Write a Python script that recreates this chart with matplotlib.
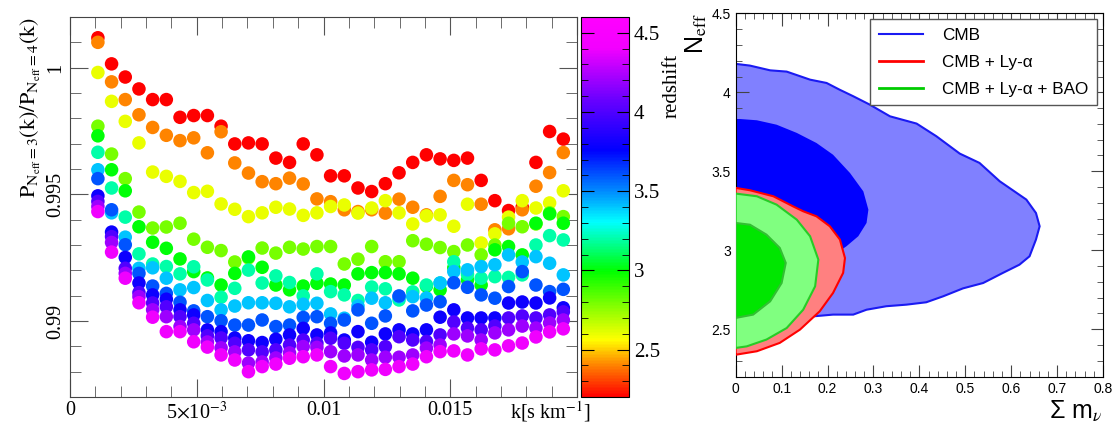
import numpy as np
import matplotlib
matplotlib.use("Agg")
import matplotlib.pyplot as plt
from matplotlib.colors import LinearSegmentedColormap, Normalize
from matplotlib.ticker import MultipleLocator
import matplotlib.cm as cm

plt.rcParams['font.family'] = ['Liberation Serif', 'DejaVu Serif']
plt.rcParams['mathtext.fontset'] = 'stix'

# ---- left panel: P1D ratio vs k, one series per redshift bin ----
k = [0.00110, 0.00164, 0.00218, 0.00272, 0.00326, 0.00380, 0.00434, 0.00488, 0.00542,
     0.00596, 0.00650, 0.00704, 0.00758, 0.00812, 0.00866, 0.00920, 0.00974, 0.01028,
     0.01082, 0.01136, 0.01190, 0.01244, 0.01298, 0.01352, 0.01406, 0.01460, 0.01514,
     0.01568, 0.01622, 0.01676, 0.01730, 0.01784, 0.01838, 0.01892, 0.01946]

redshifts = [2.2, 2.4, 2.6, 2.8, 3.0, 3.2, 3.4, 3.6, 3.8, 4.0, 4.2, 4.4]

r_z22 = [1.00118, 1.00015, 0.99963, 0.99916, 0.99874, 0.99874, 0.99804, 0.99811, 0.99811,
         0.99769, 0.99699, 0.99703, 0.99699, 0.99643, 0.99626, 0.99699, 0.99656, 0.99573,
         0.99573, 0.99525, 0.99511, 0.99542, 0.99585, 0.99626, 0.99656, 0.99640, 0.99634,
         0.99643, 0.99555, 0.99475, 0.99436, 0.99450, 0.99626, 0.99748, 0.99718]
r_z24 = [1.00100, 0.99944, 0.99874, 0.99814, 0.99764, 0.99733, 0.99712, 0.99723, 0.99664,
         0.99747, 0.99624, 0.99584, 0.99550, 0.99542, 0.99564, 0.99541, 0.99482, 0.99471,
         0.99439, 0.99432, 0.99439, 0.99426, 0.99481, 0.99449, 0.99419, 0.99492, 0.99555,
         0.99538, 0.99461, 0.99360, 0.99364, 0.99439, 0.99532, 0.99586, 0.99665]
r_z26 = [0.99981, 0.99867, 0.99788, 0.99703, 0.99588, 0.99571, 0.99551, 0.99507, 0.99512,
         0.99462, 0.99441, 0.99412, 0.99427, 0.99449, 0.99442, 0.99417, 0.99427, 0.99452,
         0.99458, 0.99426, 0.99446, 0.99475, 0.99427, 0.99383, 0.99415, 0.99419, 0.99374,
         0.99461, 0.99308, 0.99344, 0.99410, 0.99475, 0.99446, 0.99466, 0.99514]
r_z28 = [0.99769, 0.99659, 0.99562, 0.99430, 0.99367, 0.99371, 0.99386, 0.99323, 0.99291,
         0.99278, 0.99233, 0.99249, 0.99288, 0.99268, 0.99291, 0.99284, 0.99294, 0.99294,
         0.99225, 0.99244, 0.99294, 0.99234, 0.99234, 0.99317, 0.99303, 0.99290, 0.99274,
         0.99300, 0.99261, 0.99300, 0.99386, 0.99372, 0.99383, 0.99427, 0.99412]
r_z30 = [0.99731, 0.99597, 0.99514, 0.99372, 0.99311, 0.99287, 0.99245, 0.99195, 0.99170,
         0.99142, 0.99188, 0.99253, 0.99212, 0.99142, 0.99123, 0.99138, 0.99149, 0.99146,
         0.99142, 0.99186, 0.99191, 0.99191, 0.99186, 0.99169, 0.99138, 0.99123, 0.99210,
         0.99162, 0.99142, 0.99281, 0.99294, 0.99261, 0.99386, 0.99423, 0.99386]
r_z32 = [0.99666, 0.99525, 0.99410, 0.99265, 0.99225, 0.99215, 0.99186, 0.99214, 0.99162,
         0.99094, 0.99129, 0.99201, 0.99150, 0.99178, 0.99152, 0.99099, 0.99186, 0.99116,
         0.99103, 0.99081, 0.99134, 0.99127, 0.99083, 0.99115, 0.99142, 0.99150, 0.99234,
         0.99184, 0.99169, 0.99175, 0.99172, 0.99182, 0.99300, 0.99337, 0.99320]
r_z34 = [0.99597, 0.99427, 0.99331, 0.99208, 0.99210, 0.99169, 0.99123, 0.99132, 0.99081,
         0.99044, 0.99059, 0.99072, 0.99072, 0.99070, 0.99056, 0.99066, 0.99070, 0.99028,
         0.99011, 0.99059, 0.99090, 0.99072, 0.99095, 0.99096, 0.99091, 0.99150, 0.99195,
         0.99202, 0.99215, 0.99222, 0.99261, 0.99233, 0.99254, 0.99228, 0.99182]
r_z36 = [0.99562, 0.99439, 0.99301, 0.99188, 0.99138, 0.99109, 0.99074, 0.99040, 0.99017,
         0.99001, 0.98984, 0.98984, 0.99004, 0.98978, 0.98984, 0.99014, 0.99017, 0.98991,
         0.99004, 0.99044, 0.98991, 0.99020, 0.99099, 0.99040, 0.99063, 0.99076, 0.99151,
         0.99133, 0.99103, 0.99090, 0.99136, 0.99195, 0.99142, 0.99116, 0.99125]
r_z38 = [0.99494, 0.99351, 0.99251, 0.99150, 0.99103, 0.99086, 0.99044, 0.99024, 0.98965,
         0.98958, 0.98933, 0.98922, 0.98915, 0.98928, 0.98945, 0.98971, 0.98945, 0.98953,
         0.98925, 0.98958, 0.98916, 0.98949, 0.98965, 0.98949, 0.98965, 0.99015, 0.99044,
         0.99012, 0.99012, 0.99012, 0.99071, 0.99075, 0.99071, 0.99091, 0.99052]
r_z40 = [0.99472, 0.99333, 0.99208, 0.99112, 0.99071, 0.99056, 0.99017, 0.98991, 0.98941,
         0.98933, 0.98912, 0.98886, 0.98878, 0.98886, 0.98905, 0.98925, 0.98912, 0.98932,
         0.98912, 0.98896, 0.98886, 0.98899, 0.98938, 0.98925, 0.98919, 0.98945, 0.98996,
         0.98972, 0.98965, 0.98980, 0.99012, 0.99020, 0.99012, 0.99024, 0.99036]
r_z42 = [0.99452, 0.99310, 0.99188, 0.99096, 0.99044, 0.99017, 0.98978, 0.98965, 0.98917,
         0.98894, 0.98878, 0.98834, 0.98838, 0.98854, 0.98874, 0.98899, 0.98896, 0.98879,
         0.98862, 0.98866, 0.98846, 0.98857, 0.98857, 0.98866, 0.98893, 0.98905, 0.98949,
         0.98941, 0.98925, 0.98953, 0.98965, 0.98980, 0.98972, 0.98992, 0.99004]
r_z44 = [0.99432, 0.99272, 0.99169, 0.99072, 0.99015, 0.98958, 0.98958, 0.98918, 0.98897,
         0.98866, 0.98846, 0.98800, 0.98820, 0.98830, 0.98853, 0.98859, 0.98866, 0.98820,
         0.98793, 0.98800, 0.98807, 0.98809, 0.98820, 0.98830, 0.98859, 0.98879, 0.98882,
         0.98866, 0.98890, 0.98886, 0.98902, 0.98913, 0.98937, 0.98957, 0.98969]

ratios = [r_z22, r_z24, r_z26, r_z28, r_z30, r_z32, r_z34, r_z36, r_z38, r_z40, r_z42, r_z44]

# ---- right panel: Neff vs sum m_nu contours ----
cmb95_m = [0.0, 0.031, 0.075, 0.111, 0.162, 0.198, 0.226, 0.256, 0.292, 0.336, 0.394, 0.437,
           0.488, 0.531, 0.575, 0.607, 0.633, 0.654, 0.662, 0.654, 0.640, 0.618, 0.582, 0.539,
           0.495, 0.452, 0.415, 0.372, 0.328, 0.285, 0.256, 0.212, 0.169, 0.140, 0.082, 0.0]
cmb95_n = [4.18, 4.169, 4.139, 4.131, 4.08, 4.059, 4.017, 3.975, 3.922, 3.848, 3.802, 3.722,
           3.612, 3.553, 3.437, 3.373, 3.321, 3.236, 3.152, 3.068, 2.962, 2.909, 2.857, 2.793,
           2.759, 2.709, 2.671, 2.656, 2.646, 2.624, 2.593, 2.593, 2.582, 2.572, 2.561, 2.55]
cmb68_m = [0.0, 0.009, 0.046, 0.089, 0.133, 0.176, 0.212, 0.249, 0.278, 0.289, 0.285, 0.267,
           0.241, 0.220, 0.118, 0.0]
cmb68_n = [3.831, 3.831, 3.823, 3.795, 3.743, 3.679, 3.605, 3.489, 3.373, 3.257, 3.173, 3.089,
           3.025, 2.983, 2.899, 2.857]
lya95_m = [0.0, 0.031, 0.082, 0.125, 0.147, 0.176, 0.205, 0.227, 0.238, 0.234, 0.212, 0.183,
           0.140, 0.096, 0.046, 0.002, 0.0]
lya95_n = [3.395, 3.38, 3.342, 3.278, 3.247, 3.215, 3.152, 3.068, 2.951, 2.857, 2.73, 2.614,
           2.498, 2.414, 2.361, 2.34, 2.34]
bao95_m = [0.0, 0.046, 0.089, 0.133, 0.162, 0.180, 0.173, 0.147, 0.111, 0.067, 0.024, 0.0]
bao95_n = [3.359, 3.342, 3.289, 3.194, 3.089, 2.941, 2.772, 2.624, 2.508, 2.435, 2.392, 2.382]
bao68_m = [0.0, 0.031, 0.067, 0.096, 0.109, 0.100, 0.075, 0.038, 0.0]
bao68_n = [3.173, 3.162, 3.099, 3.015, 2.92, 2.793, 2.677, 2.593, 2.572]

cmap = LinearSegmentedColormap.from_list('zmap', [
    (0.00, (1, 0, 0)), (0.08, (1, 0.5, 0)), (0.15, (1, 1, 0)), (0.25, (0.45, 1, 0)),
    (0.33, (0, 1, 0)), (0.46, (0, 1, 1)), (0.55, (0, 0.5, 1)), (0.65, (0, 0, 1)),
    (0.78, (0.4, 0, 1)), (0.92, (0.95, 0, 1)), (1.00, (1, 0, 1))])
norm = Normalize(2.2, 4.6)

sans = ['Liberation Sans', 'DejaVu Sans']

W, H = 1112, 423
fig = plt.figure(figsize=(W / 100, H / 100), dpi=100)

ax = fig.add_axes([70 / W, 1 - 397 / H, 507 / W, 380 / H])
for z, r in zip(redshifts, ratios):
    ax.scatter(k, r, c=[z] * len(k), cmap=cmap, norm=norm, s=95, linewidths=0, zorder=3)

ax.set_xlim(0, 0.02)
ax.set_ylim(0.987, 1.002)
ax.set_xticks([0, 0.005, 0.01, 0.015, 0.02])
ax.set_xticklabels(['0', r'5$\times$10$^{-3}$', '0.01', '0.015', ''])
ax.set_yticks([0.99, 0.995, 1.0])
ax.set_yticklabels(['0.99', '0.995', '1'], rotation=90, va='center')
ax.xaxis.set_minor_locator(MultipleLocator(0.001))
ax.yaxis.set_minor_locator(MultipleLocator(0.001))
ax.tick_params(which='both', direction='in', top=True, right=True, labelsize=14.5, color='#555555')
ax.tick_params(which='major', length=13)
ax.tick_params(which='minor', length=8)
ax.tick_params(axis='x', pad=3)
for sp in ax.spines.values():
    sp.set_color('#444444')
ax.set_ylabel(r'$\mathrm{P_{N_{eff}=3}(k)/P_{N_{eff}=4}(k)}$', fontsize=16, loc='top', labelpad=2)
ax.text(1.026, -0.038, r'k[s km$^{-1}$]', transform=ax.transAxes, ha='right', va='center', fontsize=14.5)

cax = fig.add_axes([581 / W, 1 - 397 / H, 48 / W, 380 / H])
sm = cm.ScalarMappable(norm=norm, cmap=cmap)
cb = fig.colorbar(sm, cax=cax, ticks=[2.5, 3, 3.5, 4, 4.5])
cb.ax.set_yticklabels(['2.5', '3', '3.5', '4', '4.5'])
cb.outline.set_linewidth(0.8)
cax.yaxis.set_minor_locator(MultipleLocator(0.1))
cax.tick_params(which='both', direction='in', left=True, right=True, labelsize=15)
cax.tick_params(which='major', length=9)
cax.tick_params(which='minor', length=5)
fig.text(672 / W, 1 - 86 / H, 'redshift', rotation=90, ha='center', va='center', fontsize=15)

# right panel
ax2 = fig.add_axes([735.7 / W, 1 - 376.7 / H, 367.3 / W, 363.4 / H])
ax2.fill(cmb95_m, cmb95_n, facecolor=(0.5, 0.5, 1), edgecolor=(0.1, 0.1, 0.95), lw=1.5, zorder=1)
ax2.fill(cmb68_m, cmb68_n, facecolor=(0, 0, 1), edgecolor='none', zorder=2)
ax2.fill(lya95_m, lya95_n, facecolor=(1, 0.5, 0.5), edgecolor=(1, 0, 0), lw=1.5, zorder=3)
ax2.fill(bao95_m, bao95_n, facecolor=(0.5, 1, 0.5), edgecolor=(0.15, 0.8, 0.15), lw=1.5, zorder=4)
ax2.fill(bao68_m, bao68_n, facecolor=(0, 0.9, 0), edgecolor=(0.2, 0.75, 0.2), lw=1.5, zorder=5)
ax2.plot([], [], color=(0.1, 0.1, 0.95), lw=1.5, label='CMB')
ax2.plot([], [], color=(1, 0, 0), lw=2, label='CMB + Ly-α')
ax2.plot([], [], color=(0, 0.8, 0), lw=2, label='CMB + Ly-α + BAO')
ax2.set_xlim(0, 0.8)
ax2.set_ylim(2.2, 4.5)
ax2.set_xticks(np.arange(0, 0.81, 0.1))
ax2.set_xticklabels(['0', '0.1', '0.2', '0.3', '0.4', '0.5', '0.6', '0.7', '0.8'])
ax2.set_yticks([2.5, 3, 3.5, 4, 4.5])
ax2.set_yticklabels(['2.5', '3', '3.5', '4', '4.5'])
ax2.xaxis.set_minor_locator(MultipleLocator(0.02))
ax2.yaxis.set_minor_locator(MultipleLocator(0.1))
ax2.tick_params(which='both', direction='in', top=True, right=True, labelsize=10, color='#444444')
ax2.tick_params(which='major', length=9)
ax2.tick_params(which='minor', length=4.5)
for lab in ax2.get_xticklabels() + ax2.get_yticklabels():
    lab.set_family(sans)
ax2.set_ylabel(r'N$_{\rm eff}$', fontsize=18, loc='top', family=sans, labelpad=2)
ax2.set_xlabel('Σ m$_{\\nu}$', fontsize=18, loc='right', family=sans, labelpad=2)
leg = ax2.legend(loc='upper right', bbox_to_anchor=(0.9837, 0.9835), borderaxespad=0,
                 handlelength=2.6, fancybox=False, edgecolor='#555555', framealpha=1,
                 borderpad=0.5, labelspacing=0.7, handletextpad=1.1,
                 prop={'family': sans, 'size': 12.3})

fig.savefig('out.png', dpi=100)
